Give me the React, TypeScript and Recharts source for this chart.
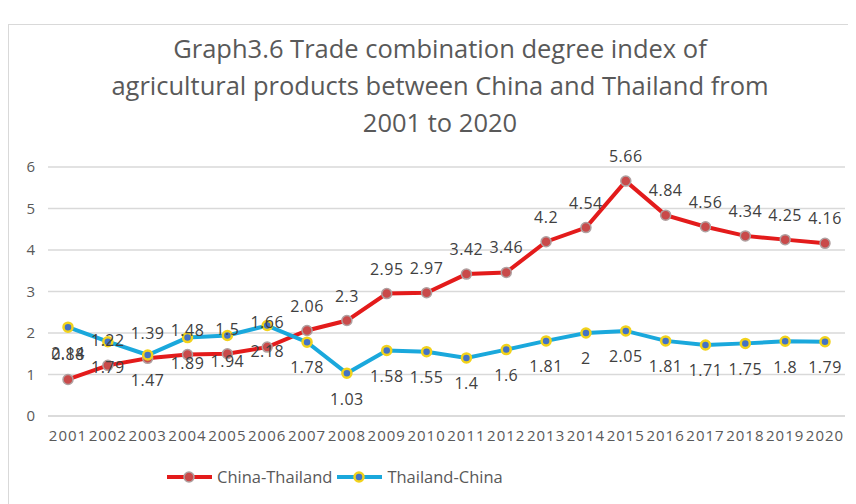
import { LineChart, Line, XAxis, YAxis, CartesianGrid, Legend, LabelList } from "recharts"

const years = ["2001", "2002", "2003", "2004", "2005", "2006", "2007", "2008", "2009", "2010", "2011", "2012", "2013", "2014", "2015", "2016", "2017", "2018", "2019", "2020"]
const chinaThailand = [0.88, 1.22, 1.39, 1.48, 1.5, 1.66, 2.06, 2.3, 2.95, 2.97, 3.42, 3.46, 4.2, 4.54, 5.66, 4.84, 4.56, 4.34, 4.25, 4.16]
const thailandChina = [2.14, 1.79, 1.47, 1.89, 1.94, 2.18, 1.78, 1.03, 1.58, 1.55, 1.4, 1.6, 1.81, 2, 2.05, 1.81, 1.71, 1.75, 1.8, 1.79]
const yTicks = [0, 1, 2, 3, 4, 5, 6]
const titleLines = [
  "Graph3.6 Trade combination degree index of",
  "agricultural products between China and Thailand from",
  "2001 to 2020",
]

const FONT = "'Open Sans', sans-serif"
const RED = "#e31b1b"
const BLUE = "#1aa8dc"

const data = years.map((y, i) => ({ year: y, ct: chinaThailand[i], tc: thailandChina[i] }))

function RedDot(props: any) {
  const { cx, cy } = props
  if (cx == null || cy == null) return null
  return <circle cx={cx} cy={cy} r={5} fill="#c94a4a" stroke="#b0a0a0" strokeWidth={1.5} />
}

function BlueDot(props: any) {
  const { cx, cy } = props
  if (cx == null || cy == null) return null
  return <circle cx={cx} cy={cy} r={4.5} fill="#4472c4" stroke="#f2d21b" strokeWidth={2.5} />
}

function renderLegend() {
  const items = [
    { name: "China-Thailand", color: RED, dot: <circle cx={22} cy={8} r={5} fill="#c94a4a" stroke="#b0a0a0" strokeWidth={1.5} /> },
    { name: "Thailand-China", color: BLUE, dot: <circle cx={22} cy={8} r={4.5} fill="#4472c4" stroke="#f2d21b" strokeWidth={2.5} /> },
  ]
  return (
    <div style={{ display: "flex", alignItems: "center", fontFamily: FONT, fontSize: 16.5, color: "#595959" }}>
      {items.map((it) => (
        <div key={it.name} style={{ display: "flex", alignItems: "center", marginRight: 5 }}>
          <svg width={45} height={16}>
            <line x1={0} y1={8} x2={45} y2={8} stroke={it.color} strokeWidth={4} />
            {it.dot}
          </svg>
          <span style={{ marginLeft: 5 }}>{it.name}</span>
        </div>
      ))}
    </div>
  )
}

export default function App() {
  return (
    <div style={{ position: "relative", width: 848, height: 496, background: "#fff" }}>
      <div style={{ position: "absolute", left: 0, top: 16, right: 0, bottom: 0, borderTop: "1.5px solid #d9d9d9", borderLeft: "1.5px solid #d9d9d9" }} />
      <div style={{ position: "absolute", left: 0, width: 864, top: 22, textAlign: "center", fontFamily: FONT, fontSize: 25.5, color: "#595959", lineHeight: "37px" }}>
        {titleLines.map((t) => (
          <div key={t}>{t}</div>
        ))}
      </div>
      <div style={{ position: "absolute", left: 0, top: 0 }}>
        <LineChart width={848} height={496} data={data} margin={{ top: 159, right: 11, left: 10, bottom: 58 }}>
          <CartesianGrid vertical={false} stroke="#d9d9d9" strokeWidth={1.5} />
          <XAxis
            dataKey="year"
            height={30}
            tickSize={0}
            tickMargin={14}
            padding={{ left: 20, right: 20 }}
            axisLine={{ stroke: "#d9d9d9", strokeWidth: 1.5 }}
            tick={{ fill: "#595959", fontSize: 15, fontFamily: FONT, letterSpacing: 1 }}
            interval={0}
          />
          <YAxis
            width={30}
            domain={[0, 6]}
            ticks={yTicks}
            tickSize={0}
            tickMargin={13}
            axisLine={false}
            tick={{ fill: "#595959", fontSize: 15, fontFamily: FONT }}
          />
          <Legend verticalAlign="middle" layout="horizontal" content={renderLegend} wrapperStyle={{ left: 159, top: 457, width: 380 }} />
          <Line dataKey="ct" name="China-Thailand" stroke={RED} strokeWidth={4} dot={<RedDot />} activeDot={false} isAnimationActive={false}>
            <LabelList dataKey="ct" position="top" offset={19} fill="#404040" fontSize={16} fontFamily={FONT} letterSpacing={0.5} />
          </Line>
          <Line dataKey="tc" name="Thailand-China" stroke={BLUE} strokeWidth={4} dot={<BlueDot />} activeDot={false} isAnimationActive={false}>
            <LabelList dataKey="tc" position="bottom" offset={20} fill="#404040" fontSize={16} fontFamily={FONT} letterSpacing={0.5} />
          </Line>
        </LineChart>
      </div>
    </div>
  )
}
